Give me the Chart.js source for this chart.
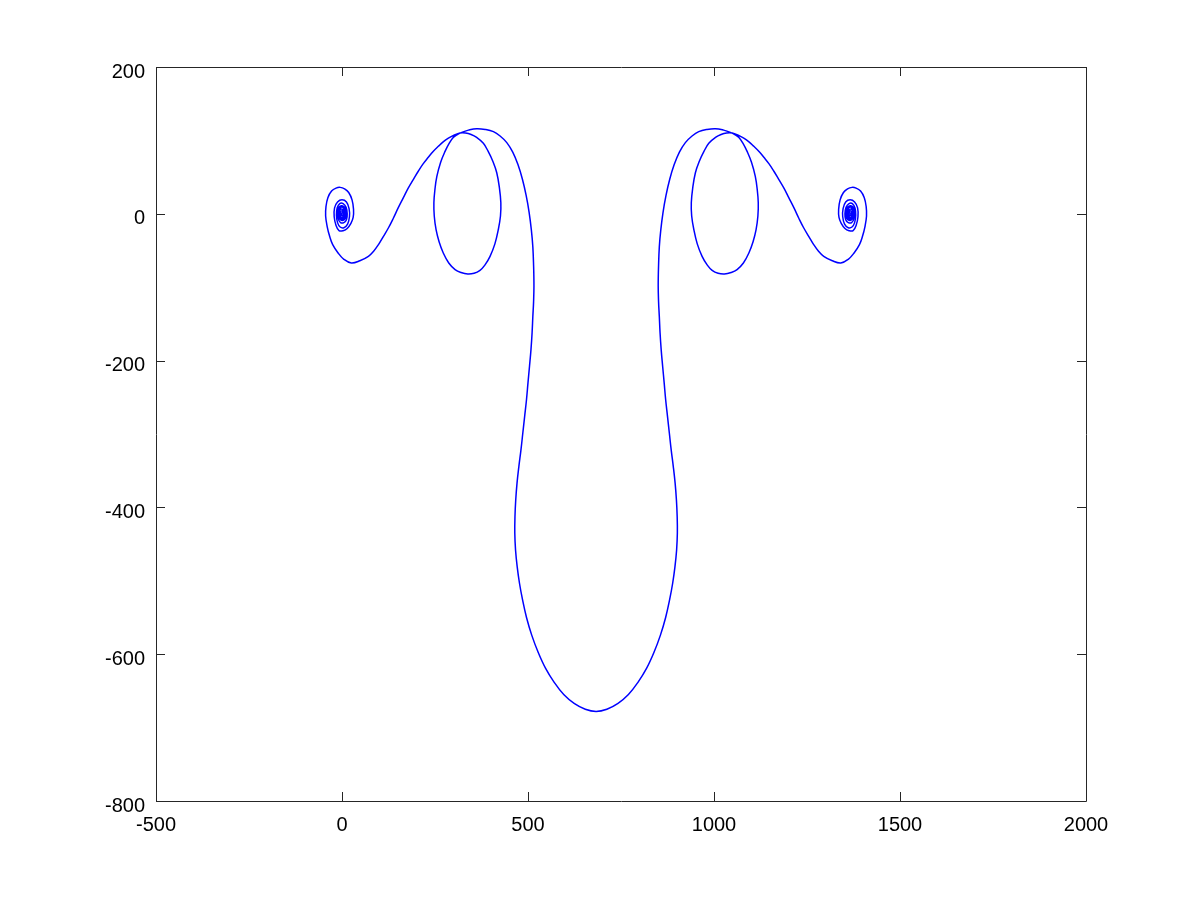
<!DOCTYPE html>
<html>
<head>
<meta charset="utf-8">
<title>Curve</title>
<script src="https://cdn.jsdelivr.net/npm/chart.js@4.4.1/dist/chart.umd.min.js"></script>
<style>
  html, body { margin: 0; padding: 0; background: #fff; }
  #wrap { width: 1200px; height: 900px; }
</style>
</head>
<body>
<div id="wrap"><canvas id="plot" width="1200" height="900"></canvas></div>
<script>
// values, in axis units, in drawing order
// left spiral, from its centre going out
var spiralLeftX = [0, 0, -2, -1, 1, 3, 2, -1, -4, -5, -2, 2, 5, 5, 1, -4, -7, -6, -1, 5, 8, 7, 1, -5, -9, -9, -4, 3, 9, 11, 8, 0, -8, -11, -10, -4, 5, 12, 14, 11, 3, -6, -13, -15, -12, -5, 5, 15, 20, 19, 12, 0, -12, -20, -21, -16, -8, 3, 14, 24, 30, 31, 27, 18, 7, -5, -16, -28, -38, -43, -44, -40, -33, -25, -11, 5, 25];
var spiralLeftY = [0, 1, 0, -2, -3, 0, 3, 4, 2, -2, -5, -5, -2, 3, 6, 6, 1, -4, -7, -6, -1, 5, 9, 8, 4, -3, -8, -9, -6, 1, 8, 11, 9, 2, -7, -12, -12, -8, 0, 9, 14, 14, 8, -2, -12, -18, -19, -14, -4, 7, 16, 19, 16, 8, -4, -16, -23, -23, -20, -13, -5, 6, 19, 29, 34, 36, 35, 31, 22, 10, -3, -17, -31, -42, -53, -62, -67];

// left arch and small loop
var archLeftX = [48, 71, 85, 98, 111, 125, 138, 151, 165, 178, 192, 205, 218, 232, 245, 259, 272, 286, 301, 317, 332, 347, 362, 380, 393, 406, 416, 423, 427, 426, 420, 411, 398, 384, 371, 355, 338, 320, 304, 287, 272, 261, 253, 248, 247, 250, 255, 265, 277, 288, 299, 310, 322, 340, 362, 385, 407, 425, 443, 459, 473, 485, 495, 503, 509, 513, 515, 516];
var archLeftY = [-64, -58, -51, -42, -31, -19, -6, 8, 22, 35, 47, 58, 68, 77, 85, 92, 98, 103, 107, 110, 110, 108, 104, 96, 85, 71, 56, 36, 15, -3, -22, -41, -58, -70, -77, -81, -82, -80, -76, -67, -53, -38, -22, -3, 15, 34, 51, 70, 85, 96, 104, 108, 111, 114, 116, 115, 112, 106, 97, 84, 67, 47, 25, 2, -22, -45, -70, -98];

// big lower lobe
var lobeX = [515, 513, 511, 508, 504, 500, 496, 491, 486, 481, 475.5, 470.5, 467, 465, 464.5, 466.5, 471, 477, 485, 496, 510, 527, 547, 570, 596, 624, 654, 683, 712, 742, 770, 796, 819, 839, 856, 870, 881, 889, 895, 899.5, 901.5, 901, 899, 895.5, 890.5, 885, 880, 875, 870, 866, 862, 858, 855, 853, 851];
var lobeY = [-120, -140, -162, -185, -208, -230, -253, -276, -299, -322, -344, -367, -390, -412, -435, -458, -481, -503, -525, -550, -574, -597, -619, -638, -655, -667, -675, -678, -675, -667, -655, -638, -619, -597, -574, -550, -525, -503, -481, -458, -435, -412, -390, -367, -344, -322, -299, -276, -253, -230, -208, -185, -162, -140, -120];

// right small loop and arch
var archRightX = [850, 851, 853, 857, 863, 871, 881, 893, 907, 923, 941, 959, 981, 1004, 1026, 1044, 1056, 1067, 1078, 1089, 1101, 1111, 1116, 1119, 1118, 1113, 1105, 1094, 1079, 1062, 1046, 1028, 1011, 995, 982, 968, 955, 946, 940, 939, 943, 950, 960, 973, 986, 1004, 1019, 1034, 1049, 1065, 1080, 1094, 1107, 1121, 1134, 1148, 1161, 1174, 1188, 1201, 1215, 1228, 1241, 1255, 1268, 1281, 1295, 1318];
var archRightY = [-98, -70, -45, -22, 2, 25, 47, 67, 84, 97, 106, 112, 115, 116, 114, 111, 108, 104, 96, 85, 70, 51, 34, 15, -3, -22, -38, -53, -67, -76, -80, -82, -81, -77, -70, -58, -41, -22, -3, 15, 36, 56, 71, 85, 96, 104, 108, 110, 110, 107, 103, 98, 92, 85, 77, 68, 58, 47, 35, 22, 8, -6, -19, -31, -42, -51, -58, -64];

// right spiral, going in to its centre
var spiralRightX = [1341, 1361, 1377, 1391, 1399, 1406, 1410, 1409, 1404, 1394, 1382, 1371, 1359, 1348, 1339, 1335, 1336, 1342, 1352, 1363, 1374, 1382, 1387, 1386, 1378, 1366, 1354, 1347, 1346, 1351, 1361, 1371, 1378, 1381, 1379, 1372, 1363, 1355, 1352, 1354, 1361, 1370, 1376, 1377, 1374, 1366, 1358, 1355, 1357, 1363, 1370, 1375, 1375, 1371, 1365, 1359, 1358, 1361, 1367, 1372, 1373, 1370, 1365, 1361, 1361, 1364, 1368, 1371, 1370, 1367, 1364, 1363, 1365, 1367, 1368, 1366, 1366];
var spiralRightY = [-67, -62, -53, -42, -31, -17, -3, 10, 22, 31, 35, 36, 34, 29, 19, 6, -5, -13, -20, -23, -23, -16, -4, 8, 16, 19, 16, 7, -4, -14, -19, -18, -12, -2, 8, 14, 14, 9, 0, -8, -12, -12, -7, 2, 9, 11, 8, 1, -6, -9, -8, -3, 4, 8, 9, 5, -1, -6, -7, -4, 1, 6, 6, 3, -2, -5, -5, -2, 2, 4, 3, 0, -3, -2, 0, 1, 0];

var xTicks = [-500, 0, 500, 1000, 1500, 2000];
var yTicks = [-800, -600, -400, -200, 0, 200];

var allX = spiralLeftX.concat(archLeftX, lobeX, archRightX, spiralRightX);
var allY = spiralLeftY.concat(archLeftY, lobeY, archRightY, spiralRightY);
var points = [];
for (var i = 0; i < allX.length; i++) {
  points.push({x: allX[i], y: allY[i]});
}

var axisColor = '#262626';

// box round the plot with ticks pointing inwards, like the original
var boxTicks = {
  id: 'boxTicks',
  afterDraw: function(chart) {
    var ctx = chart.ctx;
    var a = chart.chartArea;
    var sx = chart.scales.x, sy = chart.scales.y;
    var len = 9;
    ctx.save();
    ctx.strokeStyle = axisColor;
    ctx.lineWidth = 1;
    ctx.beginPath();
    ctx.rect(Math.round(a.left) + 0.5, Math.round(a.top) + 0.5, Math.round(a.right - a.left), Math.round(a.bottom - a.top));
    sx.ticks.forEach(function(t) {
      var px = Math.round(sx.getPixelForValue(t.value)) + 0.5;
      ctx.moveTo(px, a.bottom); ctx.lineTo(px, a.bottom - len);
      ctx.moveTo(px, a.top); ctx.lineTo(px, a.top + len);
    });
    sy.ticks.forEach(function(t) {
      var py = Math.round(sy.getPixelForValue(t.value)) + 0.5;
      ctx.moveTo(a.left, py); ctx.lineTo(a.left + len, py);
      ctx.moveTo(a.right, py); ctx.lineTo(a.right - len, py);
    });
    ctx.stroke();
    ctx.restore();
  }
};

var tickFont = {family: '"Liberation Sans", Arial, Helvetica, sans-serif', size: 20};
var plainLabel = function(v) { return String(v); };

new Chart(document.getElementById('plot'), {
  type: 'scatter',
  data: {
    datasets: [{
      data: points,
      showLine: true,
      borderColor: '#0000ff',
      borderWidth: 1.5,
      pointRadius: 0,
      tension: 0.4,
      fill: false
    }]
  },
  options: {
    responsive: false,
    animation: false,
    layout: {padding: {top: 67, right: 114, left: 0, bottom: 0}},
    plugins: {legend: {display: false}, tooltip: {enabled: false}},
    scales: {
      x: {
        type: 'linear',
        min: -500, max: 2000,
        afterBuildTicks: function(s) { s.ticks = xTicks.map(function(v) { return {value: v}; }); },
        afterFit: function(s) { s.height = 99; },
        grid: {display: false, drawTicks: false},
        border: {display: false},
        ticks: {color: '#000', font: tickFont, padding: 12, maxRotation: 0, autoSkip: false, callback: plainLabel}
      },
      y: {
        type: 'linear',
        min: -800, max: 200,
        afterBuildTicks: function(s) { s.ticks = yTicks.map(function(v) { return {value: v}; }); },
        afterFit: function(s) { s.width = 156; },
        grid: {display: false, drawTicks: false},
        border: {display: false},
        ticks: {color: '#000', font: tickFont, padding: 11, labelOffset: 5, autoSkip: false, callback: plainLabel}
      }
    }
  },
  plugins: [boxTicks]
});
</script>
</body>
</html>
